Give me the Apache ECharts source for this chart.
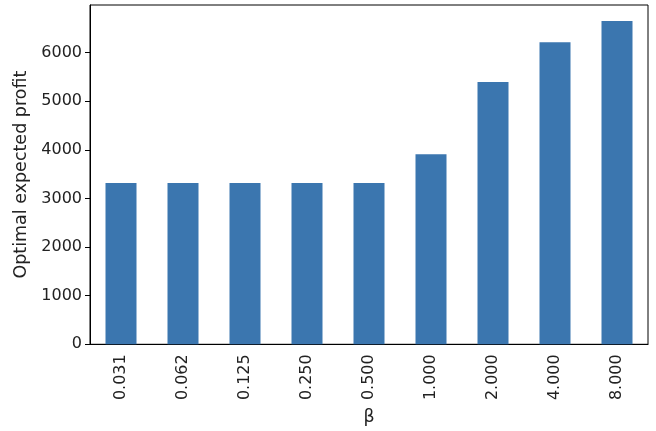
<!DOCTYPE html>
<html>
<head>
<meta charset="utf-8">
<script src="https://cdn.jsdelivr.net/npm/echarts@6/dist/echarts.min.js"></script>
<style>
  html, body { margin: 0; padding: 0; background: #fff; }
  #chart { width: 656px; height: 431px; }
</style>
</head>
<body>
<div id="chart"></div>
<script>
const betaLabels = ["0.031", "0.062", "0.125", "0.250", "0.500", "1.000", "2.000", "4.000", "8.000"];
const profitValues = [3320, 3320, 3320, 3320, 3320, 3910, 5395, 6215, 6650];
const yTicks = [0, 1000, 2000, 3000, 4000, 5000, 6000];

const textColor = "#222";
const fontFamily = "DejaVu Sans";

const myChart = echarts.init(document.getElementById("chart"));
const option = {
  backgroundColor: "#fff",
  animation: false,
  grid: {
    left: 90,
    top: 5,
    right: 8,
    bottom: 86,
    show: true,
    borderColor: "#000",
    borderWidth: 1,
  },
  xAxis: {
    type: "category",
    data: betaLabels,
    name: "β",
    nameLocation: "middle",
    nameGap: 60,
    nameTextStyle: { color: textColor, fontSize: 17.5, fontFamily: fontFamily },
    axisLine: { lineStyle: { color: "#000", width: 1 } },
    axisTick: { alignWithLabel: true, length: 5, lineStyle: { color: "#000" } },
    axisLabel: {
      rotate: 90,
      margin: 10,
      color: textColor,
      fontSize: 16,
      fontFamily: fontFamily,
    },
  },
  yAxis: {
    type: "value",
    min: 0,
    max: 6980,
    interval: 1000,
    name: "Optimal expected profit",
    nameLocation: "middle",
    nameGap: 60,
    nameRotate: 90,
    nameTextStyle: { color: textColor, fontSize: 17.5, fontFamily: fontFamily },
    axisLine: { show: true, lineStyle: { color: "#000", width: 1 } },
    axisTick: { show: true, length: 5, lineStyle: { color: "#000" } },
    axisLabel: {
      margin: 8,
      color: textColor,
      fontSize: 16,
      fontFamily: fontFamily,
      showMaxLabel: false,
      formatter: (v) => (yTicks.includes(v) ? String(v) : ""),
    },
    splitLine: { show: false },
  },
  series: [
    {
      type: "bar",
      data: profitValues,
      barWidth: "50%",
      itemStyle: { color: "#3b76af" },
    },
  ],
};
myChart.setOption(option);
</script>
</body>
</html>
